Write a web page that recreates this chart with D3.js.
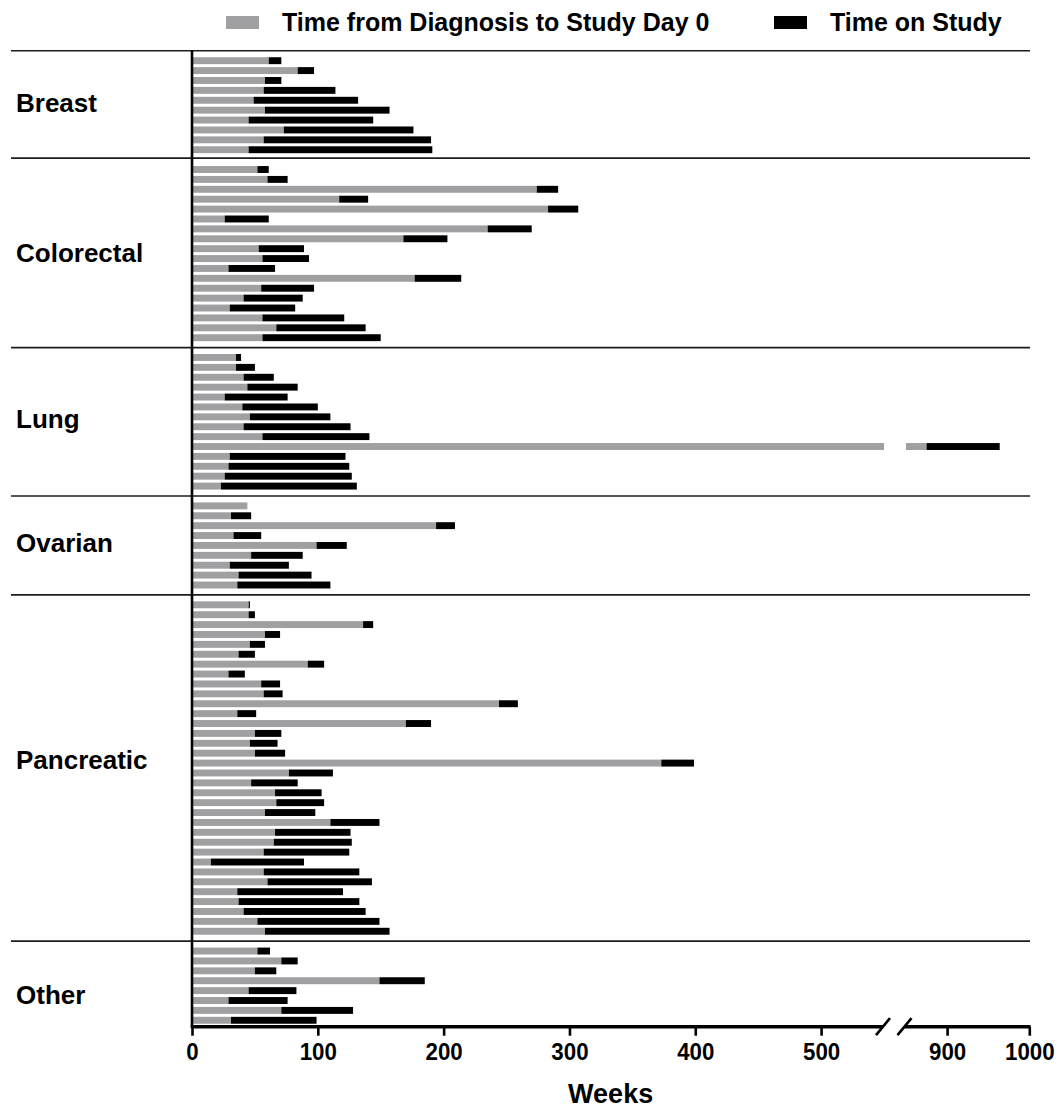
<!DOCTYPE html>
<html><head><meta charset="utf-8">
<script src="https://cdn.jsdelivr.net/npm/d3@7"></script>
<style>
body{margin:0;background:#fff}
svg{display:block}
text{font-family:"Liberation Sans",Arial,Helvetica,sans-serif;font-weight:bold;fill:#000}
</style>
</head><body>
<svg id="chart" width="1060" height="1109"></svg>
<script>
// ---------- DATA (weeks) ----------
const categories = ["Breast", "Colorectal", "Lung", "Ovarian", "Pancreatic", "Other"];

const breastDiagnosis = [61, 84, 58, 57, 49, 58, 45, 73, 57, 45];
const breastOnStudy   = [10, 13, 13, 57, 83, 99, 99, 103, 133, 146];

const colorectalDiagnosis = [52, 60, 274, 117, 283, 26, 235, 168, 53, 56, 29, 177, 55, 41, 30, 56, 67, 56];
const colorectalOnStudy   = [9, 16, 17, 23, 24, 35, 35, 35, 36, 37, 37, 37, 42, 47, 52, 65, 71, 94];

const lungDiagnosis = [35, 35, 41, 44, 26, 40, 46, 41, 56, 875, 30, 29, 26, 23];
const lungOnStudy   = [4, 15, 24, 40, 50, 60, 64, 85, 85, 89, 92, 96, 101, 108];

const ovarianDiagnosis = [44, 31, 194, 33, 99, 47, 30, 37, 36];
const ovarianOnStudy   = [0, 16, 15, 22, 24, 41, 47, 58, 74];

const pancreaticDiagnosis = [45, 45, 136, 58, 46, 37, 92, 29, 55, 57, 244, 36, 170, 50, 46, 50, 373,
                             77, 47, 66, 67, 58, 110, 66, 65, 57, 15, 57, 60, 36, 37, 41, 52, 58];
const pancreaticOnStudy   = [1, 5, 8, 12, 12, 13, 13, 13, 15, 15, 15, 15, 20, 21, 22, 24, 26,
                             35, 37, 37, 38, 40, 39, 60, 62, 68, 74, 76, 83, 84, 96, 97, 97, 99];

const otherDiagnosis = [52, 71, 50, 149, 45, 29, 71, 31];
const otherOnStudy   = [10, 13, 17, 36, 38, 47, 57, 68];

const tickValuesLow  = [0, 100, 200, 300, 400, 500];
const tickValuesHigh = [900, 1000];
const axisDomainLow  = [0, 550];
const axisDomainHigh = [850, 1000];
const seriesNames = ["Time from Diagnosis to Study Day 0", "Time on Study"];
const axisTitle = "Weeks";

// ---------- BUILD ----------
const diagnosisByGroup = [breastDiagnosis, colorectalDiagnosis, lungDiagnosis, ovarianDiagnosis, pancreaticDiagnosis, otherDiagnosis];
const onStudyByGroup   = [breastOnStudy, colorectalOnStudy, lungOnStudy, ovarianOnStudy, pancreaticOnStudy, otherOnStudy];

const slots = [];
const rows = [];
const gaps = [];
categories.forEach((cat, gi) => {
  const gapKey = "gap-" + gi;
  slots.push(gapKey); gaps.push(gapKey);
  diagnosisByGroup[gi].forEach((d, i) => {
    const key = cat + "-" + i;
    slots.push(key);
    rows.push({key, group: cat, diag: d, total: d + onStudyByGroup[gi][i]});
  });
});

const COLOR_GRAY = "#a0a0a3", COLOR_BLACK = "#000";
const svg = d3.select("#chart");

const y = d3.scalePoint().domain(slots).range([50.8, 1020.3]);
const step = y.step();
const barH = step * 0.7;
const axisY = y.range()[1] + 6.4;

const x1 = d3.scaleLinear().domain(axisDomainLow).range([192, 884]);
const x2 = d3.scaleLinear().domain(axisDomainHigh).range([906, 1029.3]);

// separators
const sepG = svg.append("g");
gaps.forEach((g, i) => {
  const yy = y(g) + (i === 1 ? -1.5 : 0);
  sepG.append("line").attr("x1", 11).attr("x2", 1030).attr("y1", yy).attr("y2", yy)
    .attr("stroke", "#1c1c1c").attr("stroke-width", 1.6);
});

// bars
const barG = svg.append("g");
const lowMax = axisDomainLow[1], highMin = axisDomainHigh[0];
rows.forEach(r => {
  const yy = y(r.key) - barH / 2;
  const gEnd = Math.min(r.diag, lowMax), tEnd = Math.min(r.total, lowMax);
  barG.append("rect").attr("x", x1(0)).attr("y", yy).attr("width", x1(gEnd) - x1(0)).attr("height", barH).attr("fill", COLOR_GRAY);
  if (tEnd > gEnd) barG.append("rect").attr("x", x1(gEnd)).attr("y", yy).attr("width", x1(tEnd) - x1(gEnd)).attr("height", barH).attr("fill", COLOR_BLACK);
  if (r.total > highMin) {
    if (r.diag > highMin) barG.append("rect").attr("x", x2(highMin)).attr("y", yy).attr("width", x2(r.diag) - x2(highMin)).attr("height", barH).attr("fill", COLOR_GRAY);
    const s = Math.max(r.diag, highMin);
    barG.append("rect").attr("x", x2(s)).attr("y", yy).attr("width", x2(r.total) - x2(s)).attr("height", barH).attr("fill", COLOR_BLACK);
  }
});

// category labels
const labelNudge = {Breast: -2.5, Colorectal: -0.5, Lung: -3.5, Ovarian: -2.5, Pancreatic: -8, Other: 9};
categories.forEach(cat => {
  const ys = rows.filter(r => r.group === cat).map(r => y(r.key));
  const cy = d3.mean(ys) + labelNudge[cat];
  svg.append("text").attr("x", 16).attr("y", cy).attr("dy", "0.36em")
    .style("font-size", "26px").text(cat);
});

// y axis line
svg.append("line").attr("x1", x1(0)).attr("x2", x1(0)).attr("y1", y.range()[0]).attr("y2", axisY)
  .attr("stroke", "#000").attr("stroke-width", 2.6);

// x axis
function styleAxis(g) {
  g.select(".domain").remove();
  g.selectAll(".tick line").attr("stroke", "#000").attr("stroke-width", 2.6);
  g.selectAll(".tick text")
    .style("font-size", "24px").style("font-family", '"Liberation Sans",Arial,sans-serif')
    .style("font-weight", "bold").attr("fill", "#000")
    .attr("dy", "0.68em")
    .attr("textLength", function() { return this.textContent.length * 12.4; })
    .attr("lengthAdjust", "spacingAndGlyphs");
}
const axLow = svg.append("g").attr("transform", `translate(0,${axisY})`)
  .call(d3.axisBottom(x1).tickValues(tickValuesLow).tickSize(9).tickPadding(8).tickFormat(d3.format("d")));
styleAxis(axLow);
const axHigh = svg.append("g").attr("transform", `translate(0,${axisY})`)
  .call(d3.axisBottom(x2).tickValues(tickValuesHigh).tickSize(9).tickPadding(8).tickFormat(d3.format("d")));
styleAxis(axHigh);

const brk1 = x1(lowMax) - 1, brk2 = x2(highMin) - 1.5;
svg.append("line").attr("x1", x1(0) - 1.3).attr("x2", brk1).attr("y1", axisY).attr("y2", axisY).attr("stroke", "#000").attr("stroke-width", 3.5);
svg.append("line").attr("x1", brk2).attr("x2", x2(axisDomainHigh[1]) + 1.3).attr("y1", axisY).attr("y2", axisY).attr("stroke", "#000").attr("stroke-width", 3.5);
[brk1, brk2].forEach(cx => {
  svg.append("line").attr("x1", cx - 7).attr("y1", axisY + 8.5).attr("x2", cx + 7).attr("y2", axisY - 8.5)
    .attr("stroke", "#000").attr("stroke-width", 2.6);
});

svg.append("text").attr("x", (x1(0) + x2(axisDomainHigh[1])) / 2).attr("y", 1103)
  .attr("text-anchor", "middle").style("font-size", "27px").text(axisTitle);

// legend
const legendItems = [
  {name: seriesNames[0], color: COLOR_GRAY, sx: 226, tx: 282},
  {name: seriesNames[1], color: COLOR_BLACK, sx: 774, tx: 830}
];
legendItems.forEach(it => {
  svg.append("rect").attr("x", it.sx).attr("y", 16).attr("width", 33).attr("height", 13).attr("fill", it.color);
  svg.append("text").attr("x", it.tx).attr("y", 31).style("font-size", "25px").text(it.name);
});
</script>
</body></html>
